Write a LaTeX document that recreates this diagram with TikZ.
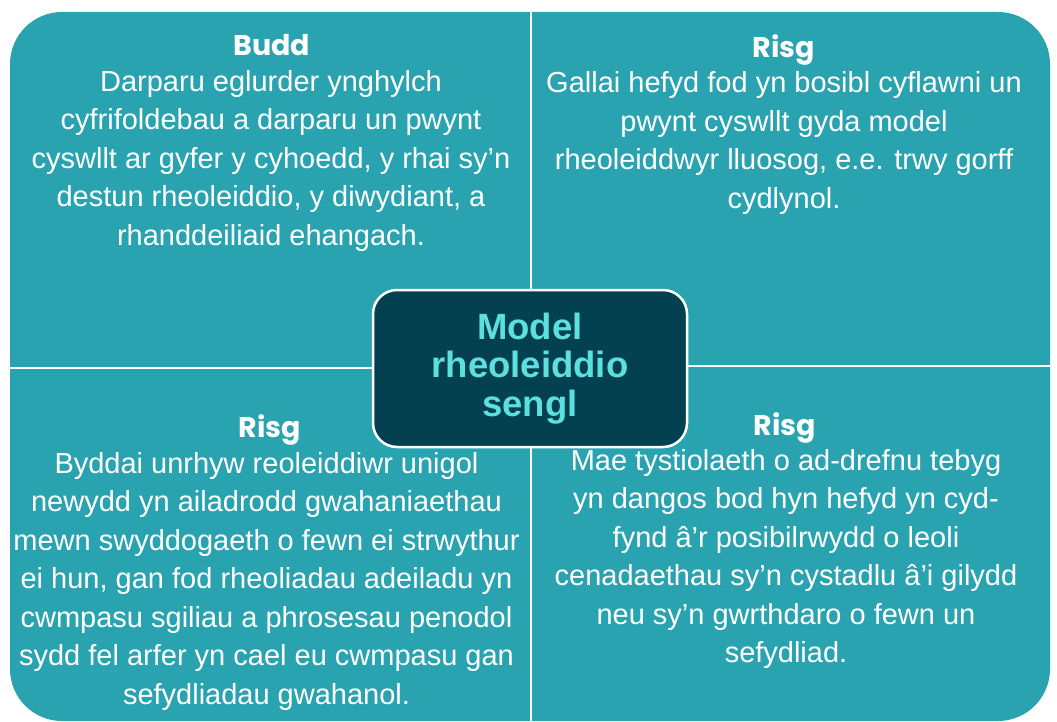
\documentclass[tikz,border=0pt]{standalone}
\usepackage{fontspec}
\setmainfont{Liberation Sans}
\newfontfamily\titlefont{Poppins}
\definecolor{quadteal}{HTML}{2AA3B0}
\definecolor{centerfill}{HTML}{034150}
\definecolor{centertext}{HTML}{5DDFDF}
\tikzset{
  divider/.style={draw=white, line width=2.2pt},
  bodytext/.style={font=\fontsize{29}{38.5}\selectfont, text=white, align=center, inner sep=0pt, anchor=north},
  titletext/.style={font=\titlefont\bfseries\fontsize{28.5}{30}\selectfont, text=white, inner sep=0pt, anchor=base},
  centerbox/.style={draw=white, line width=2.5pt, fill=centerfill, rounded corners=24pt,
    minimum width=314pt, minimum height=157pt, inner sep=0pt, align=center,
    text=centertext, font=\bfseries\fontsize{36.5}{38.5}\selectfont}
}
\begin{document}
\begin{tikzpicture}[x=1pt,y=-1pt]
\useasboundingbox (0,0) rectangle (1057,722);
\fill[quadteal, rounded corners=52pt] (10,12) rectangle (1050,721);
% dividers
\coordinate (vtop) at (531,12);
\coordinate (vbot) at (531,721);
\coordinate (hleft) at (10,368);
\coordinate (hmid) at (531,368);
\coordinate (hmid2) at (531,366);
\coordinate (hright) at (1050,366);
\draw[divider] (vtop) -- (vbot);
\draw[divider] (hleft) -- (hmid);
\draw[divider] (hmid2) -- (hright);
% titles
\node[titletext] (t1) at (272,56) {Budd};
\node[titletext] (t2) at (784,58) {Risg};
\node[titletext] (t3) at (270,437) {Risg};
\node[titletext] (t4) at (785,435) {Risg};
% bodies
\node[bodytext] (b1) at (271,69.9) {Darparu eglurder ynghylch\\cyfrifoldebau a darparu un pwynt\\cyswllt ar gyfer y cyhoedd, y rhai sy’n\\destun rheoleiddio, y diwydiant, a\\rhanddeiliaid ehangach.};
\node[bodytext] (b2) at (784,71.4) {Gallai hefyd fod yn bosibl cyflawni un\\pwynt cyswllt gyda model\\rheoleiddwyr lluosog, e.e. trwy gorff\\cydlynol.};
\node[bodytext] (b3) at (266.5,451.9) {Byddai unrhyw reoleiddiwr unigol\\newydd yn ailadrodd gwahaniaethau\\mewn swyddogaeth o fewn ei strwythur\\ei hun, gan fod rheoliadau adeiladu yn\\cwmpasu sgiliau a phrosesau penodol\\sydd fel arfer yn cael eu cwmpasu gan\\sefydliadau gwahanol.};
\node[bodytext] (b4) at (786,448.9) {Mae tystiolaeth o ad-drefnu tebyg\\yn dangos bod hyn hefyd yn cyd-\\fynd â’r posibilrwydd o leoli\\cenadaethau sy’n cystadlu â’i gilydd\\neu sy’n gwrthdaro o fewn un\\sefydliad.};
% center
\node[centerbox] (center) at (530,368.5) {Model\\rheoleiddio\\sengl};
\end{tikzpicture}
\end{document}
